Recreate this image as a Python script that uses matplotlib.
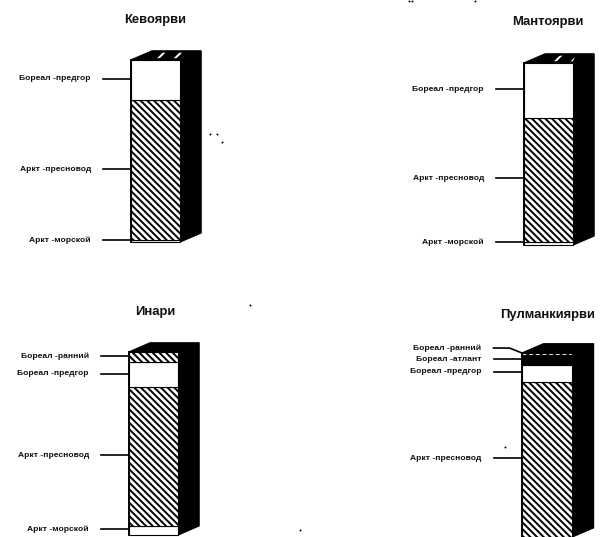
import matplotlib
matplotlib.use("Agg")
import matplotlib.pyplot as plt
from matplotlib.patches import Polygon

plt.rcParams['font.family'] = ['Liberation Sans', 'DejaVu Sans']
plt.rcParams['hatch.linewidth'] = 1.4

W, H = 601, 537

# percent of column height, bottom segment first
kevo_vals = [1, 77, 22]
kevo_kinds = ['white', 'hatch', 'white']
kevo_labels = ['Аркт -морской', 'Аркт -пресновод', 'Бореал -предгор']
kevo_label_y = [1.1, 40, 89.6]

manto_vals = [1.5, 68.5, 30]
manto_kinds = ['white', 'hatch', 'white']
manto_labels = ['Аркт -морской', 'Аркт -пресновод', 'Бореал -предгор']
manto_label_y = [1.6, 36.8, 85.7]

inari_vals = [5, 76, 13.5, 5.5]
inari_kinds = ['white', 'hatch', 'white', 'hatch']
inari_labels = ['Аркт -морской', 'Аркт -пресновод', 'Бореал -предгор', 'Бореал -ранний']
inari_label_y = [3.3, 43.7, 88, 97.8]

pulm_vals = [84.5, 9, 5.5, 1]
pulm_kinds = ['hatch', 'white', 'black', 'hatch']
pulm_labels = ['Аркт -пресновод', 'Бореал -предгор', 'Бореал -атлант', 'Бореал -ранний']
pulm_label_y = [42.9, 89.7, 96.7, 102.7]

# scan specks and the cut off line at the top edge
speck_x = [210, 217, 222, 250, 300, 505, 580, 409, 412, 475]
speck_y = [134, 134, 142, 305, 530, 447, 426, 1, 1, 1]


def draw_column(box, title, title_xy, vals, kinds, labels, label_y, speckled):
    # box is the front face in pixels: left, top, right, bottom
    left, top, right, bottom = box
    ax = fig.add_axes([left / W, 1 - bottom / H, (right - left) / W, (bottom - top) / H])
    ax.set_xlim(0, 1)
    ax.set_ylim(0, 100)
    ax.axis('off')

    dx, dy = 0.43, 5
    side = Polygon([(1, 0), (1 + dx, dy), (1 + dx, 100 + dy), (1, 100)], fc='black', ec='black', clip_on=False)
    ax.add_patch(side)
    roof = Polygon([(0, 100), (dx, 100 + dy), (1 + dx, 100 + dy), (1, 100)], fc='black', ec='black', clip_on=False)
    ax.add_patch(roof)
    if speckled:
        # whitish scratches on the black roof
        inner = Polygon([(0.35, 101), (0.5, 104), (1.05, 104), (1, 101)], fc='none', ec='white',
                        hatch='//', lw=0, clip_on=False)
        ax.add_patch(inner)

    b = 0
    for v, kind in zip(vals, kinds):
        if kind == 'hatch':
            ax.bar(0.5, v, 1, bottom=b, color='white', edgecolor='black', hatch='\\' * 5, lw=0.8, clip_on=False)
        else:
            ax.bar(0.5, v, 1, bottom=b, color=kind, edgecolor='black', lw=0.8, clip_on=False)
        b += v
    ax.plot([0, 0], [0, 100], color='black', lw=1.4, clip_on=False)

    for lab, y in zip(labels, label_y):
        ax.plot([-0.57, -0.25, 0], [y, y, min(y, 100)], color='black', lw=1.2, clip_on=False)
        ax.text(-0.82, y, lab, ha='right', va='center', fontsize=6.1, fontweight='bold', color='#111111')

    fig.text(title_xy[0] / W, 1 - title_xy[1] / H, title, ha='center', va='center', fontsize=9.4,
             fontweight='bold', color='#111111')


fig = plt.figure(figsize=(W / 100, H / 100), dpi=100)

draw_column((131, 60, 180, 242), 'Кевоярви', (155, 20), kevo_vals, kevo_kinds, kevo_labels, kevo_label_y, True)
draw_column((524, 63, 573, 245), 'Мантоярви', (548, 22), manto_vals, manto_kinds, manto_labels, manto_label_y, True)
draw_column((129, 352, 178, 535), 'Инари', (155, 312), inari_vals, inari_kinds, inari_labels, inari_label_y, False)
draw_column((522, 353, 572, 537), 'Пулманкиярви', (548, 315), pulm_vals, pulm_kinds, pulm_labels, pulm_label_y, False)

over = fig.add_axes([0, 0, 1, 1])
over.set_xlim(0, W)
over.set_ylim(H, 0)
over.axis('off')
over.patch.set_alpha(0)
over.scatter(speck_x, speck_y, s=2, color='black', linewidths=0)

fig.savefig("out.png", dpi=100)
